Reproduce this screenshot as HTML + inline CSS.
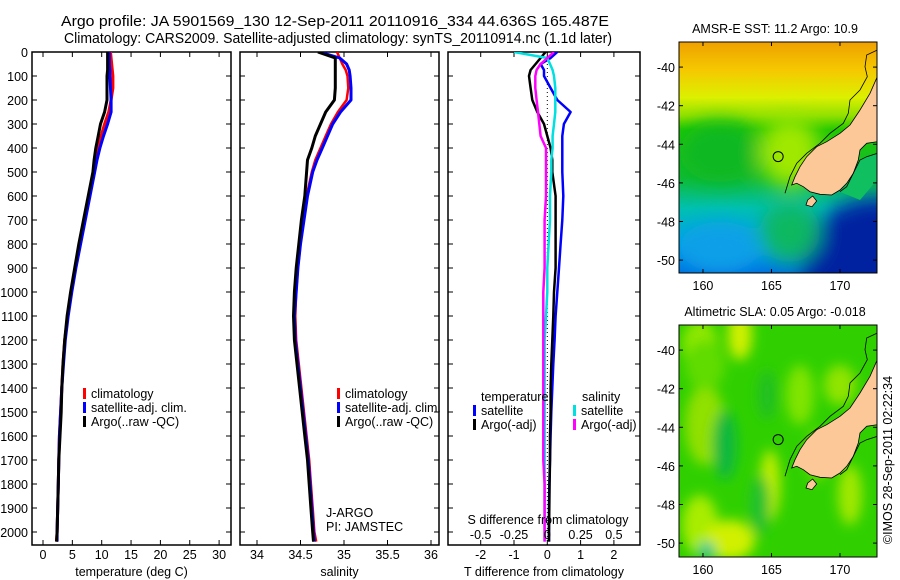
<!DOCTYPE html>
<html><head><meta charset="utf-8"><style>
html,body{margin:0;padding:0;background:#fff}
svg{display:block;font-family:"Liberation Sans",sans-serif}
</style></head><body>
<svg id="fig" width="900" height="580" viewBox="0 0 900 580">
<defs>
<clipPath id="clipM1"><rect x="679" y="42" width="198" height="231"/></clipPath>
<clipPath id="clipM2"><rect x="679" y="325" width="198" height="232"/></clipPath>
<clipPath id="clipP1"><rect x="32" y="52" width="199" height="493"/></clipPath>
<clipPath id="clipP2"><rect x="240" y="52" width="199" height="493"/></clipPath>
<clipPath id="clipP3"><rect x="448" y="52" width="192" height="493"/></clipPath>
<filter id="blur6" x="-50%" y="-50%" width="200%" height="200%"><feGaussianBlur stdDeviation="6"/></filter>
<filter id="blur10" x="-50%" y="-50%" width="200%" height="200%"><feGaussianBlur stdDeviation="10"/></filter>
<linearGradient id="sstGrad" x1="0" y1="0" x2="0" y2="1">
<stop offset="0" stop-color="#f0a000"/><stop offset="0.12" stop-color="#f5c800"/>
<stop offset="0.24" stop-color="#dcf000"/><stop offset="0.32" stop-color="#90e000"/>
<stop offset="0.38" stop-color="#20c800"/><stop offset="0.58" stop-color="#10bb30"/>
<stop offset="0.72" stop-color="#00c0b0"/><stop offset="0.88" stop-color="#00a0e8"/>
<stop offset="1" stop-color="#0070e0"/></linearGradient>
</defs>
<g id="titles" font-size="14.5" text-anchor="start">
<text x="61" y="26" textLength="548" lengthAdjust="spacingAndGlyphs">Argo profile: JA 5901569_130 12-Sep-2011 20110916_334 44.636S 165.487E</text>
<text x="64" y="43" textLength="548" lengthAdjust="spacingAndGlyphs">Climatology: CARS2009. Satellite-adjusted climatology: synTS_20110914.nc (1.1d later)</text>
</g>
<g id="p1"></g>
<g id="p2"></g>
<g id="p3"></g>
<g id="m1"></g>
<g id="m2"></g>
<text x="892" y="460" font-size="12.5" text-anchor="middle" transform="rotate(-90 892 460)">©IMOS 28-Sep-2011 02:22:34</text>
</svg>
<script>
const depths=[0,25,50,75,100,150,200,250,300,350,400,450,500,600,700,800,900,1000,1100,1200,1300,1400,1500,1600,1700,1800,1900,2000,2040];
const tempClim=[11.5,11.6,11.7,11.8,11.9,11.9,11.6,11.2,10.5,9.9,9.4,9.0,8.6,7.8,7.0,6.2,5.5,4.8,4.2,3.7,3.4,3.2,3.0,2.8,2.7,2.6,2.5,2.4,2.3];
const tempSat=[11.3,11.3,11.3,11.4,11.4,11.5,11.6,11.6,11.0,10.3,9.7,9.2,8.8,8.0,7.2,6.4,5.6,4.9,4.3,3.8,3.5,3.2,3.0,2.8,2.7,2.6,2.5,2.4,2.4];
const tempArgo=[11.0,11.0,11.0,11.0,10.9,10.9,10.9,10.5,9.8,9.4,9.0,8.7,8.5,7.7,6.9,6.1,5.4,4.7,4.1,3.7,3.4,3.2,3.1,2.9,2.7,2.6,2.5,2.4,2.3];
const salClim=[34.92,34.95,34.98,35.02,35.04,35.05,35.03,34.93,34.85,34.79,34.73,34.67,34.63,34.57,34.53,34.50,34.47,34.45,34.44,34.45,34.48,34.51,34.54,34.57,34.60,34.62,34.64,34.66,34.68];
const salSat=[34.72,34.95,35.03,35.06,35.07,35.08,35.08,34.96,34.87,34.81,34.75,34.69,34.64,34.58,34.54,34.50,34.47,34.45,34.43,34.44,34.47,34.50,34.53,34.56,34.59,34.61,34.63,34.65,34.66];
const salArgo=[34.70,34.90,34.90,34.90,34.90,34.90,34.89,34.79,34.73,34.67,34.63,34.58,34.57,34.55,34.51,34.48,34.45,34.43,34.42,34.43,34.46,34.49,34.52,34.55,34.58,34.60,34.62,34.64,34.65];
const dTempSat=[0.3,0.1,-0.2,-0.1,-0.1,0.1,0.3,0.7,0.5,0.45,0.45,0.45,0.45,0.48,0.45,0.4,0.35,0.3,0.25,0.22,0.18,0.15,0.12,0.1,0.08,0.06,0.05,0.05,0.05];
const dTempArgo=[-0.05,-0.2,-0.35,-0.5,-0.55,-0.5,-0.45,-0.3,-0.1,0.0,0.1,0.15,0.15,0.25,0.25,0.25,0.25,0.2,0.18,0.15,0.12,0.1,0.1,0.08,0.08,0.07,0.06,0.05,0.05];
const dSalSat=[-0.25,0.0,0.02,0.04,0.05,0.06,0.06,0.06,0.05,0.04,0.04,0.03,0.03,0.02,0.02,0.01,0.0,0.0,-0.01,-0.02,-0.02,-0.02,-0.02,-0.02,-0.02,-0.02,-0.02,-0.02,-0.02];
const dSalArgo=[0.05,0.0,-0.05,-0.08,-0.09,-0.09,-0.08,-0.07,-0.06,-0.05,-0.01,-0.01,-0.01,-0.01,-0.02,-0.02,-0.02,-0.03,-0.03,-0.03,-0.03,-0.03,-0.03,-0.03,-0.03,-0.02,-0.02,-0.02,-0.02];
const depthTicks=[0,100,200,300,400,500,600,700,800,900,1000,1100,1200,1300,1400,1500,1600,1700,1800,1900,2000];
const tempTicks=[0,5,10,15,20,25,30];
const salTicks=[34,34.5,35,35.5,36];
const dTempTicks=[-2,-1,0,1,2];
const dSalTicks=[-0.5,-0.25,0,0.25,0.5];
const latTicks=[-40,-42,-44,-46,-48,-50];
const lonTicks=[160,165,170];
const sstTitle="AMSR-E SST: 11.2 Argo: 10.9";
const slaTitle="Altimetric SLA: 0.05 Argo: -0.018";
const argoLon=165.487, argoLat=-44.636;

const NS="http://www.w3.org/2000/svg";
function mk(tag,attrs,parent){const e=document.createElementNS(NS,tag);for(const k in attrs)e.setAttribute(k,attrs[k]);if(parent)parent.appendChild(e);return e;}
function txt(parent,x,y,s,anchor,size){const t=mk('text',{x:x,y:y,'font-size':size||12.5,'text-anchor':anchor||'middle'},parent);t.textContent=s;return t;}
const TOP=52,BOT=545;
const yD=d=>TOP+d*0.24;

function panel(g,L,R,xf,xticks,xlabel,clip,showY){
  const frame=mk('rect',{x:L,y:TOP,width:R-L,height:BOT-TOP,fill:'none',stroke:'#000','stroke-width':1.5},g);
  
  
  depthTicks.forEach(d=>{
    const y=yD(d);
    mk('line',{x1:L,x2:L+5,y1:y,y2:y,stroke:'#000'},g);
    mk('line',{x1:R-5,x2:R,y1:y,y2:y,stroke:'#000'},g);
    if(showY){const t=txt(g,28,y+5,String(d),'end',12.5);
      
      }
  });
  if(xticks){xticks.forEach(v=>{
    const x=xf(v);
    mk('line',{x1:x,x2:x,y1:TOP,y2:TOP+5,stroke:'#000'},g);
    mk('line',{x1:x,x2:x,y1:BOT-5,y2:BOT,stroke:'#000'},g);
    const t=txt(g,x,559,String(v),'middle',12.5);
    
    
  });}
  const lab=txt(g,(L+R)/2,576,xlabel,'middle',12.5);
  
  
}
function series(g,vals,xf,color,w,clip,name){
  const pts=vals.map((v,i)=>xf(v).toFixed(1)+','+yD(depths[i]).toFixed(1)).join(' ');
  const p=mk('polyline',{points:pts,fill:'none',stroke:color,'stroke-width':w,'clip-path':'url(#'+clip+')','stroke-linejoin':'round'},g);
  
  
}
function legend(g,x,y,items){
  items.forEach((it,i)=>{
    const yy=y+i*14;
    mk('rect',{x:x,y:yy-10,width:3,height:11,fill:it[1]},g);
    const t=txt(g,x+8,yy,it[0],'start',12.5);
    
    
  });
}
const p1=document.getElementById('p1');
const xT=v=>43+v*5.87;
panel(p1,32,231,xT,tempTicks,'temperature (deg C)','clipP1',true);
series(p1,tempClim,xT,'#ff0000',3,'clipP1','temperature-climatology-line');
series(p1,tempSat,xT,'#0000ff',3,'clipP1','temperature-satellite-line');
series(p1,tempArgo,xT,'#000000',3,'clipP1','temperature-argo-line');
legend(p1,83,398,[['climatology','#ff0000'],['satellite-adj. clim.','#0000ff'],['Argo(..raw -QC)','#000000']]);
const p2=document.getElementById('p2');
const xS=v=>257+(v-34)*87;
panel(p2,240,439,xS,salTicks,'salinity','clipP2',false);
series(p2,salClim,xS,'#ff0000',2.5,'clipP2','salinity-climatology-line');
series(p2,salSat,xS,'#0000ff',3,'clipP2','salinity-satellite-line');
series(p2,salArgo,xS,'#000000',3,'clipP2','salinity-argo-line');
legend(p2,337,398,[['climatology','#ff0000'],['satellite-adj. clim.','#0000ff'],['Argo(..raw -QC)','#000000']]);
{const a=txt(p2,326,517,'J-ARGO','start',12.5);
 const b=txt(p2,326,531,'PI: JAMSTEC','start',12.5);}
const p3=document.getElementById('p3');
const xdT=v=>547.3+v*33.3;
const xdS=v=>547.3+v*133.2;
panel(p3,448,640,xdT,dTempTicks,'T difference from climatology','clipP3',false);
mk('line',{x1:547.3,x2:547.3,y1:TOP,y2:BOT,stroke:'#000','stroke-dasharray':'1,3'},p3);
series(p3,dTempSat,xdT,'#0000ff',2.5,'clipP3','dtemp-satellite-line');
series(p3,dTempArgo,xdT,'#000000',2.5,'clipP3','dtemp-argo-line');
series(p3,dSalSat,xdS,'#00e0e0',2.5,'clipP3','dsal-satellite-line');
series(p3,dSalArgo,xdS,'#ff00ff',2.5,'clipP3','dsal-argo-line');
{const a=txt(p3,481,401,'temperature','start',12.5);
 const b=txt(p3,582,401,'salinity','start',12.5);}
legend(p3,473,415,[['satellite','#0000ff'],['Argo(-adj)','#000000']]);
legend(p3,573,415,[['satellite','#00e0e0'],['Argo(-adj)','#ff00ff']]);
{const a=txt(p3,548,524,'S difference from climatology','middle',12.5);}
dSalTicks.forEach(v=>{const t=txt(p3,xdS(v),539,String(v),'middle',12.5);
  
  });

const landPx=[[712,230],[690,280],[660,330],[630,375],[600,400],[560,425],[530,440],[500,470],[480,500],[465,530],[455,555],[470,550],[490,560],[510,575],[540,583],[575,585],[600,570],[620,550],[640,520],[655,480],[660,450],[680,430],[712,425]];
const islandPx=[[503,600],[518,588],[530,603],[516,620],[498,615]];
const shelfN=[[712,150],[680,165],[675,200],[682,230],[660,270],[630,300],[625,340],[610,370],[570,400],[540,430],[500,460],[470,490],[450,530],[435,580]];
const shelfS=[[712,460],[680,470],[660,480],[640,520],[620,560],[600,575]];
function toPts(arr,dy){return arr.map(p=>(p[0]/3+640).toFixed(1)+','+(p[1]/3+dy).toFixed(1)).join(' ');}
function map(g,top,h,clip,title,kind){
  const L=679,W=198;
  const lonX=lon=>L+(lon-158.25)*13.7;
  const latY=lat=>top+(-38.7-lat)*19.3;
  const body=mk('g',{'clip-path':'url(#'+clip+')'},g);
  if(kind==='sst'){
    mk('rect',{x:L,y:top,width:W,height:h,fill:'url(#sstGrad)'},body);
    const b=mk('g',{filter:'url(#blur10)'},body);
    mk('ellipse',{cx:790,cy:top+110,rx:30,ry:35,fill:'#a0e800'},b);
    mk('ellipse',{cx:720,cy:top+110,rx:40,ry:30,fill:'#10b820'},b);
    mk('ellipse',{cx:880,cy:top+225,rx:80,ry:70,fill:'#0020a0'},b);
    mk('ellipse',{cx:790,cy:top+190,rx:30,ry:30,fill:'#10b860'},b);
    mk('ellipse',{cx:720,cy:top+205,rx:40,ry:25,fill:'#10a0e8'},b);
    mk('polygon',{points:toPts(shelfS,0)+' 860,200 877,180',fill:'#10c060'},body);
  } else {
    mk('rect',{x:L,y:top,width:W,height:h,fill:'#30d000'},body);
    const b=mk('g',{filter:'url(#blur6)'},body);
    [[740,top+10,12,25,'#d0f000'],[700,top+20,18,25,'#90e800'],[705,top+100,20,40,'#90e000'],[700,top+200,18,30,'#a8ec00'],[730,top+215,25,20,'#d0f000'],[770,top+160,10,35,'#c0ee00'],[800,top+70,14,30,'#80e400'],[850,top+170,12,30,'#a0e800'],[840,top+60,16,20,'#90e400'],[818,top+130,10,25,'#8ae400'],[705,top+40,20,25,'#60dc00']].forEach(e=>mk('ellipse',{cx:e[0],cy:e[1],rx:e[2],ry:e[3],fill:e[4]},b));
    [[725,top+120,12,35,'#10b840'],[767,top+70,10,25,'#20c020'],[760,top+180,10,30,'#20c030'],[707,top+225,8,8,'#00c0a0']].forEach(e=>mk('ellipse',{cx:e[0],cy:e[1],rx:e[2],ry:e[3],fill:e[4]},b));
  }
  const dy=top-42;
  const land=mk('polygon',{points:toPts(landPx,dy),fill:'#fcc898',stroke:'#000','stroke-width':0.8},body);
  
  
  mk('polygon',{points:toPts(islandPx,dy),fill:'#fcc898',stroke:'#000','stroke-width':0.8},body);
  mk('polyline',{points:toPts(shelfN,dy),fill:'none',stroke:'#000','stroke-width':0.8},body);
  mk('polyline',{points:toPts(shelfS,dy),fill:'none',stroke:'#000','stroke-width':0.8},body);
  const c=mk('circle',{cx:lonX(argoLon),cy:latY(argoLat),r:5,fill:'none',stroke:'#000','stroke-width':1},g);
  
  
  mk('rect',{x:L,y:top,width:W,height:h,fill:'none',stroke:'#000','stroke-width':1},g);
  latTicks.forEach(lat=>{const y=latY(lat);
    mk('line',{x1:L,x2:L+4,y1:y,y2:y,stroke:'#000'},g);
    mk('line',{x1:L+W-4,x2:L+W,y1:y,y2:y,stroke:'#000'},g);
    const t=txt(g,675,y+5,String(lat),'end',12.5);
    
    });
  lonTicks.forEach(lon=>{const x=lonX(lon);
    mk('line',{x1:x,x2:x,y1:top,y2:top+4,stroke:'#000'},g);
    mk('line',{x1:x,x2:x,y1:top+h-4,y2:top+h,stroke:'#000'},g);
    const t=txt(g,x,top+h+17,String(lon),'middle',12.5);
    
    });
  const tt=txt(g,L+W/2-3,top-9,title,'middle',12.5);
  
  
}
map(document.getElementById('m1'),42,231,'clipM1',sstTitle,'sst');
map(document.getElementById('m2'),325,232,'clipM2',slaTitle,'sla');
</script>
</body></html>
